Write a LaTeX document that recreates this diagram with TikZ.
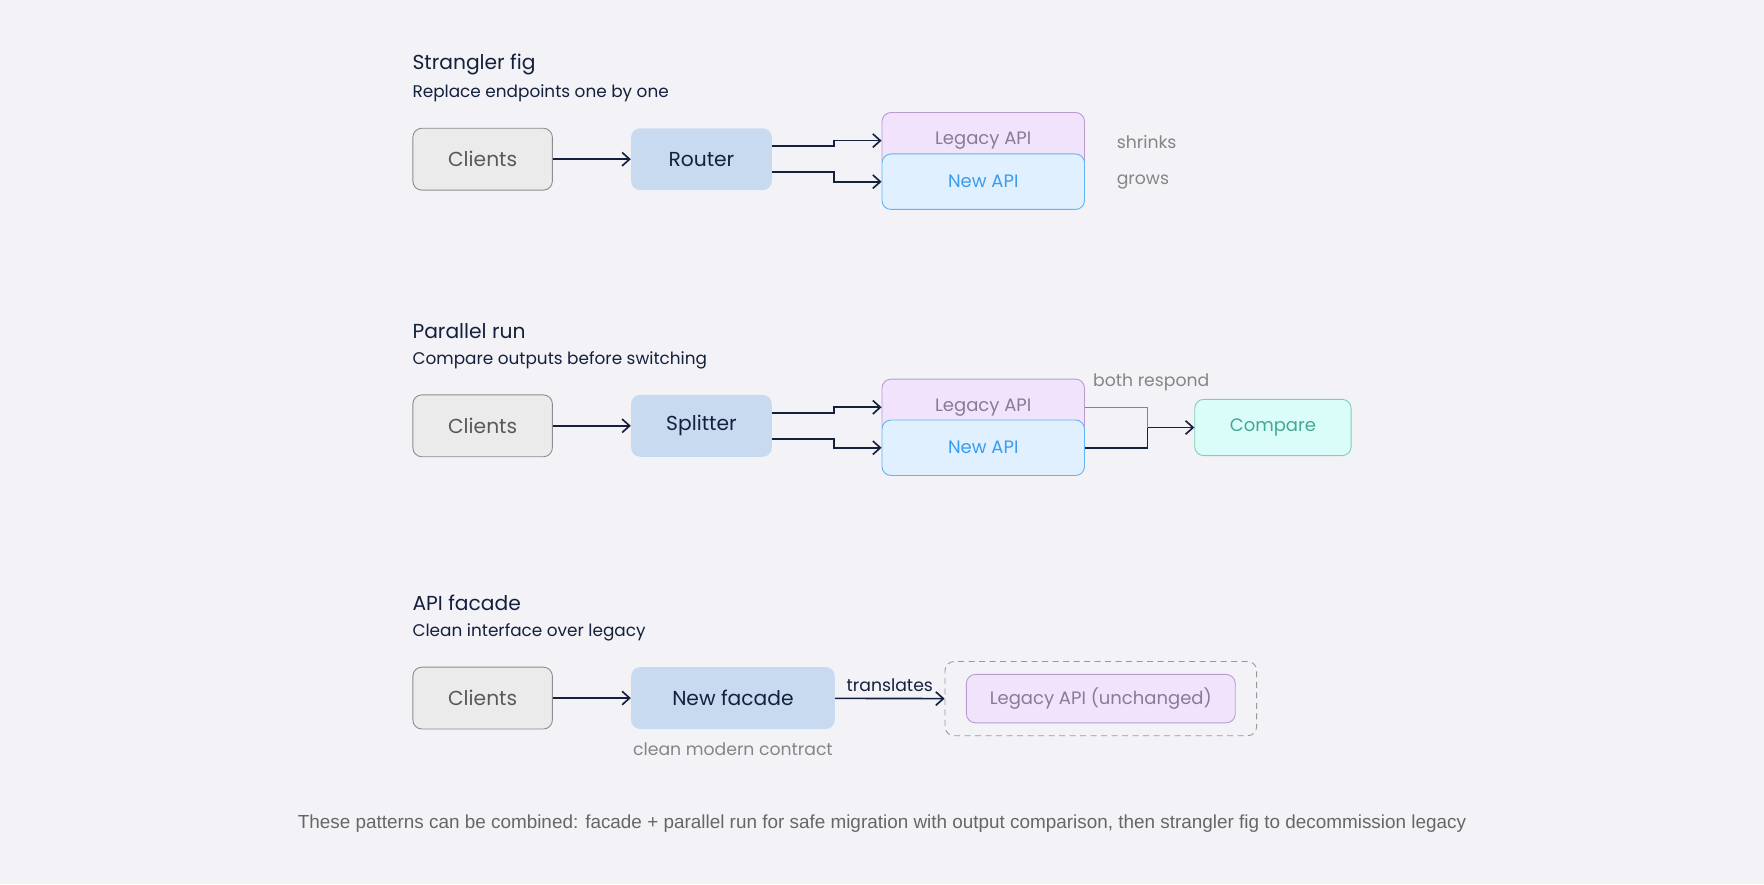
\documentclass[tikz,border=0pt]{standalone}
\usepackage{fontspec}
\setmainfont{Poppins}
\newfontfamily\footfont{Liberation Sans}
\usetikzlibrary{arrows.meta,calc}
\definecolor{bg}{HTML}{F3F2F7}
\definecolor{navy}{HTML}{14213D}
\definecolor{gtx}{HTML}{858585}
\definecolor{rtf}{HTML}{C8DAF0}
\definecolor{legf}{HTML}{F1E3FC}
\definecolor{legd}{HTML}{B89CD0}
\definecolor{legt}{HTML}{8A7A9A}
\definecolor{newf}{HTML}{E0F0FE}
\definecolor{newd}{HTML}{64B4F4}
\definecolor{newt}{HTML}{3A9CF0}
\definecolor{cmpf}{HTML}{DAFDFA}
\definecolor{cmpd}{HTML}{7CCFB8}
\definecolor{cmpt}{HTML}{45A892}
\tikzset{
 box/.style={rounded corners=6pt,inner sep=0pt,minimum height=41.25pt},
 cli/.style={box,fill=black!8,draw=black!45,line width=0.6pt,text=black!65,font=\fontsize{13.5}{16}\selectfont,minimum width=93pt},
 rt/.style={box,fill=rtf,draw=none,text=navy,font=\fontsize{13.5}{16}\selectfont,minimum width=93.75pt},
 leg/.style={box,fill=legf,draw=legd,line width=0.6pt,text=legt,font=\fontsize{12}{14}\selectfont,minimum width=135pt,minimum height=37.5pt},
 new/.style={box,fill=newf,draw=newd,line width=0.6pt,text=newt,font=\fontsize{12}{14}\selectfont,minimum width=135pt,minimum height=37pt},
 ttl/.style={anchor=west,text=navy,font=\fontsize{13.5}{16}\selectfont},
 sub/.style={anchor=west,text=navy,font=\fontsize{11.25}{14}\selectfont},
 note/.style={text=gtx,font=\fontsize{11.5}{14}\selectfont},
 arr/.style={draw=navy,line width=1.1pt,-{Straight Barb[length=5pt,width=9pt]}},
 ln/.style={draw=navy,line width=1.1pt},
}
\begin{document}
\begin{tikzpicture}[x=0.75pt,y=-0.75pt]
\fill[bg] (0,0) rectangle (1568,786);
\useasboundingbox (0,0) rectangle (1568,786);
% section 1
\node[ttl] (t1) at (362,57) {Strangler fig};
\node[sub] (s1) at (362,83) {Replace endpoints one by one};
\node[cli] (c1) at (429,141.5) {Clients};
\node[rt] (r1) at (623.5,141.5) {Router};
\node[leg] (l1) at (874,125) {Legacy API};
\node[new] (n1) at (874,161.5) {New API};
\node[note,anchor=west] (sh) at (988,126) {shrinks};
\node[note,anchor=west] (gr) at (988,162) {grows};
\draw[arr] (c1) -- (r1);
\draw[arr] ($(r1.east)+(0,-11.5)$) -- ++(55,0) |- (l1.west);
\draw[arr] ($(r1.east)+(0,11.5)$) -- ++(55,0) |- (n1.west);
% section 2
\node[ttl] (t2) at (362,294) {Parallel run};
\node[sub] (s2) at (362,320) {Compare outputs before switching};
\node[cli] (c2) at (429,378.5) {Clients};
\node[rt] (r2) at (623.5,378.5) {Splitter};
\node[leg] (l2) at (874,362) {Legacy API};
\node[new] (n2) at (874,398) {New API};
\node[box,fill=cmpf,draw=cmpd,line width=0.6pt,text=cmpt,font=\fontsize{12}{14}\selectfont,minimum width=104.25pt,minimum height=37.5pt] (cmp) at (1131.5,380) {Compare};
\node[note,anchor=west] (br) at (967,340) {both respond};
\coordinate (m) at (1020,380);
\draw[arr] (c2) -- (r2);
\draw[arr] ($(r2.east)+(0,-11.5)$) -- ++(55,0) |- (l2.west);
\draw[arr] ($(r2.east)+(0,11.5)$) -- ++(55,0) |- (n2.west);
\draw[draw=gtx,line width=1pt] (l2.east) -| (m);
\draw[ln] (n2.east) -| (m);
\draw[arr] (m) -- (cmp.west);
% section 3
\node[ttl] (t3) at (362,536) {API facade};
\node[sub] (s3) at (362,562) {Clean interface over legacy};
\node[cli] (c3) at (429,620.5) {Clients};
\node[rt,minimum width=135.75pt] (f3) at (651.5,620.5) {New facade};
\node[note] (cm) at (651.5,666) {clean modern contract};
\node[draw=gray!80,dashed,dash pattern=on 4pt off 3pt,line width=0.6pt,rounded corners=6pt,minimum width=207.75pt,minimum height=49.5pt,inner sep=0pt] (d3) at (978.5,621) {};
\node[leg,minimum width=179.25pt,minimum height=32.25pt] (l3) at (978.5,621) {Legacy API (unchanged)};
\draw[arr] (c3) -- (f3);
\draw[arr] (f3) -- node[above,text=navy,font=\fontsize{11.5}{14}\selectfont,yshift=1pt] (tr) {translates} (d3.west);
% footer
\node[text=black!60,font=\footfont\fontsize{12.6}{14}\selectfont] (ft) at (784,732) {These patterns can be combined: facade + parallel run for safe migration with output comparison, then strangler fig to decommission legacy};
\end{tikzpicture}
\end{document}
